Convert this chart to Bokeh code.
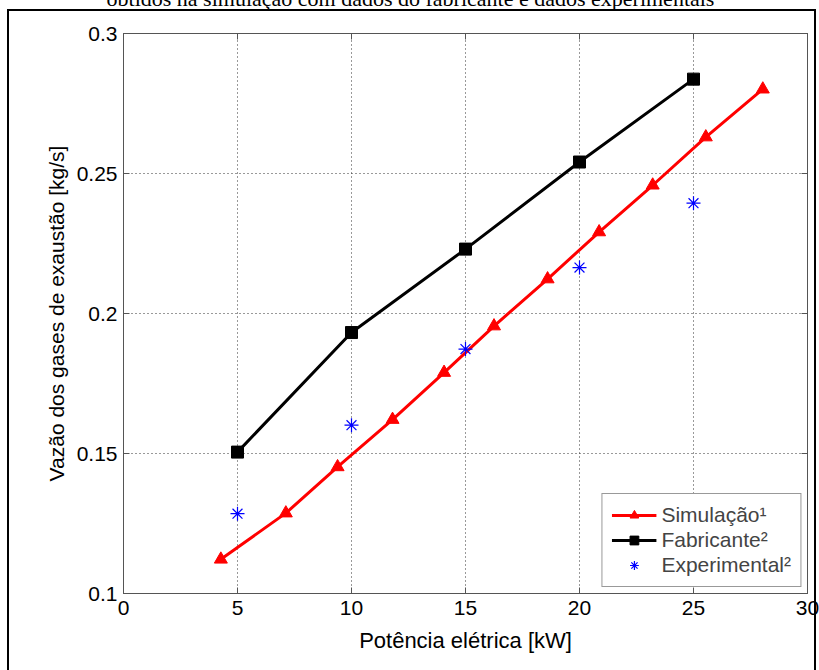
from bokeh.plotting import figure
from bokeh.models import (Range1d, FixedTicker, LinearAxis, Legend, LegendItem, Label)
from bokeh.embed import file_html
from bokeh.resources import INLINE

# ---- data ----
sim_x = [4.27, 7.12, 9.39, 11.80, 14.06, 16.25, 18.60, 20.86, 23.21, 25.54, 28.04]
sim_y = [0.1122, 0.1287, 0.1452, 0.1621, 0.1789, 0.1955, 0.2123, 0.2291, 0.2458, 0.2630, 0.2801]
fab_x = [5, 10, 15, 20, 25]
fab_y = [0.1505, 0.1932, 0.2230, 0.2541, 0.2837]
exp_x = [5, 10, 15, 20, 25]
exp_y = [0.1285, 0.1601, 0.1873, 0.2164, 0.2394]
x_ticks = [0, 5, 10, 15, 20, 25, 30]
y_ticks = [0.1, 0.15, 0.2, 0.25, 0.3]
y_tick_labels = ["0.1", "0.15", "0.2", "0.25", "0.3"]
series_names = ["Simulação¹", "Fabricante²", "Experimental²"]
x_label = "Potência elétrica [kW]"
y_label = "Vazão dos gases de exaustão [kg/s]"
caption = "obtidos na simulação com dados do fabricante e dados experimentais"

FONT = "Liberation Sans"

# outer picture frame drawn as CSS background lines behind a transparent canvas border
frame_css = ("linear-gradient(#000,#000) 7px 9px / 2px 700px no-repeat, "
             "linear-gradient(#000,#000) 7px 9px / 809px 2px no-repeat, "
             "linear-gradient(#000,#000) 814px 9px / 2px 700px no-repeat, white")

p = figure(width=819, height=670, x_range=Range1d(0, 30), y_range=Range1d(0.1, 0.3),
           output_backend="svg", toolbar_location=None,
           min_border_left=123, min_border_right=12, min_border_top=33, min_border_bottom=77,
           styles={"background": frame_css})
p.background_fill_color = "white"
p.border_fill_color = None
p.border_fill_alpha = 0
p.outline_line_color = "#555555"
p.outline_line_width = 1

p.xaxis.ticker = FixedTicker(ticks=x_ticks)
p.yaxis.ticker = FixedTicker(ticks=y_ticks)
p.yaxis.major_label_overrides = dict(zip(y_ticks, y_tick_labels))

for ax in p.xaxis + p.yaxis:
    ax.major_tick_in = 6
    ax.major_tick_out = 0
    ax.minor_tick_line_color = None
    ax.axis_line_color = "#555555"
    ax.major_tick_line_color = "#555555"
    ax.major_label_text_font = FONT
    ax.major_label_text_font_size = "21px"
    ax.major_label_text_color = "black"
    ax.axis_label_text_font = FONT
    ax.axis_label_text_font_style = "normal"
    ax.axis_label_text_color = "black"

p.xaxis.axis_label = x_label
p.xaxis.axis_label_text_font_size = "22px"
p.xaxis.major_label_standoff = 7
p.xaxis.axis_label_standoff = 10
p.yaxis.axis_label = y_label
p.yaxis.axis_label_text_font_size = "21px"
p.yaxis.major_label_standoff = 6
p.yaxis.axis_label_standoff = 6

# mirror ticks on top and right (no labels)
top_ax = LinearAxis(ticker=FixedTicker(ticks=x_ticks),
                    major_label_overrides={t: "" for t in x_ticks})
right_ax = LinearAxis(ticker=FixedTicker(ticks=y_ticks),
                      major_label_overrides={t: "" for t in y_ticks})
for ax in (top_ax, right_ax):
    ax.major_tick_in = 6
    ax.major_tick_out = 0
    ax.minor_tick_line_color = None
    ax.axis_line_color = "#555555"
    ax.major_tick_line_color = "#555555"
    ax.major_label_standoff = 0
p.add_layout(top_ax, "above")
p.add_layout(right_ax, "right")

p.grid.grid_line_color = "#333333"
p.grid.grid_line_dash = "1 3"
p.grid.grid_line_width = 1

# series
sim_line = p.line(sim_x, sim_y, line_color="red", line_width=3)
sim_mk = p.scatter(sim_x, sim_y, marker="triangle", size=13, fill_color="red", line_color="red")
fab_line = p.line(fab_x, fab_y, line_color="black", line_width=3)
fab_mk = p.scatter(fab_x, fab_y, marker="square", size=12, fill_color="black", line_color="black")
exp_mk = p.scatter(exp_x, exp_y, marker="asterisk", size=14, line_color="blue", line_width=1.2)

legend = Legend(items=[
    LegendItem(label=series_names[0], renderers=[sim_line, sim_mk]),
    LegendItem(label=series_names[1], renderers=[fab_line, fab_mk]),
    LegendItem(label=series_names[2], renderers=[exp_mk]),
], location="bottom_right")
legend.margin = 6
legend.padding = 9
legend.spacing = 1
legend.label_height = 23
legend.glyph_height = 22
legend.glyph_width = 45
legend.label_standoff = 5
legend.label_text_font = FONT
legend.label_text_font_size = "21px"
legend.border_line_color = "#333333"
legend.border_line_width = 1
legend.background_fill_color = "white"
legend.background_fill_alpha = 1
p.add_layout(legend)

cap = Label(x=410, y=-2, x_units="canvas", y_units="canvas", text=caption,
            text_align="center", text_baseline="alphabetic",
            text_font="Liberation Serif", text_font_size="22px", text_color="black")
p.add_layout(cap, "above")

open("out.html", "w").write(file_html(p, INLINE))
